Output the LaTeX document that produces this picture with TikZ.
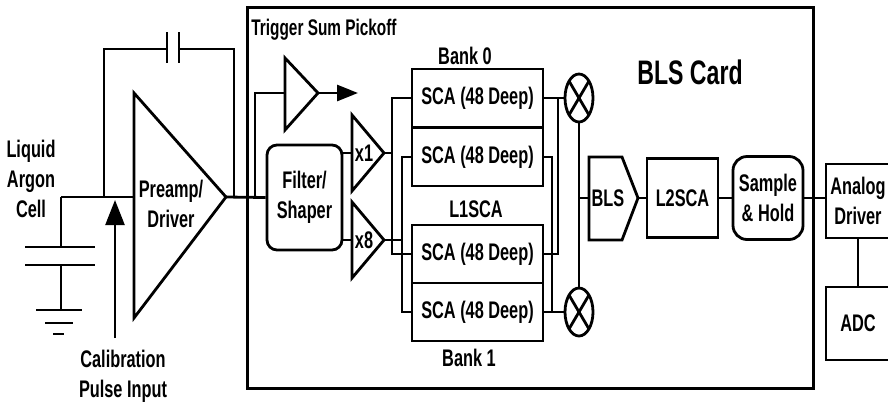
\documentclass[tikz,border=0pt]{standalone}
\usepackage{fontspec}
\setmainfont{Liberation Sans}[FakeStretch=0.68]
\usetikzlibrary{shapes,arrows.meta,calc}

\begin{document}
\begin{tikzpicture}[x=0.5pt, y=-0.5pt,
    font=\bfseries\fontsize{12}{15}\selectfont,
    wire/.style={line width=1.4pt},
    thin wire/.style={line width=1pt},
    blk/.style={rectangle, draw, line width=1.4pt, inner sep=0pt, align=center},
    sca/.style={blk, minimum width=65.5pt, minimum height=29pt},
    rblk/.style={blk, rounded corners=5pt},
    mult/.style={ellipse, draw, line width=1.4pt, minimum width=14pt, minimum height=24pt, inner sep=0pt},
    lbl/.style={align=center, inner sep=0pt}
]
    \useasboundingbox (0,0) rectangle (888,408);

    % Cellule argon liquide
    \node[lbl] (cell) at (31,179) {Liquid\\Argon\\Cell};
    \coordinate (cj) at (61,197);
    \draw[wire] (cj) -- (61,247);
    \draw[wire] (25,247) -- (95,247) (25,265) -- (95,265);
    \draw[thin wire] (61,265) -- (61,310);
    \draw[wire] (36,310) -- (82,310) (45,323) -- (73,323) (53,334) -- (64,334);

    % Preampli
    \coordinate (pin) at (134,197);
    \coordinate (pout) at (226,197);
    \draw[wire] (134,93) -- (pout) -- (134,318) -- cycle;
    \node[lbl] (pre) at (171,204) {Preamp/\\Driver};
    \draw[wire] (cj) -- (pin);
    \coordinate (fbl) at (104,197);
    \coordinate (fbr) at (234,197);
    \draw[wire] (fbl) |- (167,49);
    \draw[wire] (179,49) -| (fbr);
    \draw[wire] (167,32) -- (167,63) (179,32) -- (179,63);

    % Calibration
    \node[lbl] (cal) at (123,376) {Calibration\\Pulse Input};
    \coordinate (calst) at (115,338);
    \coordinate (calend) at (115,200);
    \draw[line width=1.2pt, -{Triangle[length=12.5pt, width=9.5pt]}] (calst) -- (calend);

    % Carte BLS
    \node[blk, line width=1.5pt, minimum width=283pt, minimum height=190.5pt] (card) at (530,197.5) {};
    \node[font=\bfseries\fontsize{17}{19}\selectfont] (cardlbl) at (690,72) {BLS Card};
    \node[lbl, font=\bfseries\fontsize{11.3}{15}\selectfont] (trig) at (324,30) {Trigger Sum Pickoff};

    % Filtre et gains
    \node[rblk, minimum width=37.5pt, minimum height=52.5pt] (filt) at (304.5,197.5) {Filter/\\Shaper};
    \draw[wire] (pout) -- (filt.west);
    \coordinate (tin) at (285,93);
    \coordinate (tout) at (318,93);
    \draw[wire] (285,58) -- (tout) -- (285,130) -- cycle;
    \draw[wire] (255,197) |- (tin);
    \draw[wire, -{Triangle[length=10.5pt, width=8pt]}] (tout) -- (358,93);
    \foreach \n/\t/\y in {g1/x1/153, g8/x8/240} {
        \draw[wire] (352,\y-38) -- (384,\y) -- (352,\y+38) -- cycle;
        \coordinate (\n-in) at (352,\y);
        \coordinate (\n-out) at (384,\y);
        \node[lbl] (\n) at (364,\y) {\t};
        \draw[wire] (filt.east |- \n-in) -- (\n-in);
    }

    % L1SCA
    \node[sca] (s1) at (477.5,98) {SCA (48 Deep)};
    \node[sca] (s2) at (477.5,157) {SCA (48 Deep)};
    \node[sca] (s3) at (477.5,254) {SCA (48 Deep)};
    \node[sca] (s4) at (477.5,312) {SCA (48 Deep)};
    \node[lbl] (bank0) at (465,56) {Bank 0};
    \node[lbl] (l1sca) at (476,209) {L1SCA};
    \node[lbl] (bank1) at (469,358) {Bank 1};
    \coordinate (b1) at (392,153);
    \coordinate (b8) at (402,240);
    \draw[wire] (g1-out) -- (b1);
    \draw[wire] (g8-out) -- (b8);
    \draw[wire] (s1.west) -| (b1) |- (s3.west);
    \draw[wire] (s2.west) -| (b8) |- (s4.west);

    % Multiplieurs
    \node[mult] (mtop) at (579,98) {};
    \node[mult] (mbot) at (579,312) {};
    \foreach \m in {mtop,mbot}
        \draw[wire] (\m.center) +(-10,-17) -- +(10,17) +(-10,17) -- +(10,-17);
    \coordinate (j1) at (558,98);
    \coordinate (j8) at (552,312);
    \draw[wire] (s1.east) -- (mtop);
    \draw[wire] (s4.east) -- (mbot);
    \draw[wire] (s3.east) -| (j1);
    \draw[wire] (s2.east) -| (j8);
    \draw[thin wire] (mtop) -- (mbot);

    % Chaine de sortie
    \coordinate (bls-in) at (589,198);
    \coordinate (bls-out) at (638,198);
    \draw[wire] (589,157) -- (622,157) -- (bls-out) -- (622,240) -- (589,240) -- cycle;
    \node[lbl] (bls) at (608,198) {BLS};
    \draw[thin wire] (bls-in -| mtop) -- (bls-in);
    \node[blk, minimum width=35.5pt, minimum height=39.5pt] (l2) at (682.5,198) {L2SCA};
    \node[blk, rounded corners=7pt, minimum width=35pt, minimum height=41.5pt] (sh) at (768,198) {Sample\\\& Hold};
    \node[blk, minimum width=32pt, minimum height=37pt] (drv) at (858,201) {Analog\\Driver};
    \node[blk, minimum width=32pt, minimum height=36.5pt] (adc) at (858,323.5) {ADC};
    \draw[wire] (bls-out) -- (l2);
    \draw[wire] (l2) -- (sh);
    \draw[wire] (sh.east) -- (sh.east -| drv.west);
    \draw[wire] (drv) -- (adc);

\end{tikzpicture}
\end{document}
